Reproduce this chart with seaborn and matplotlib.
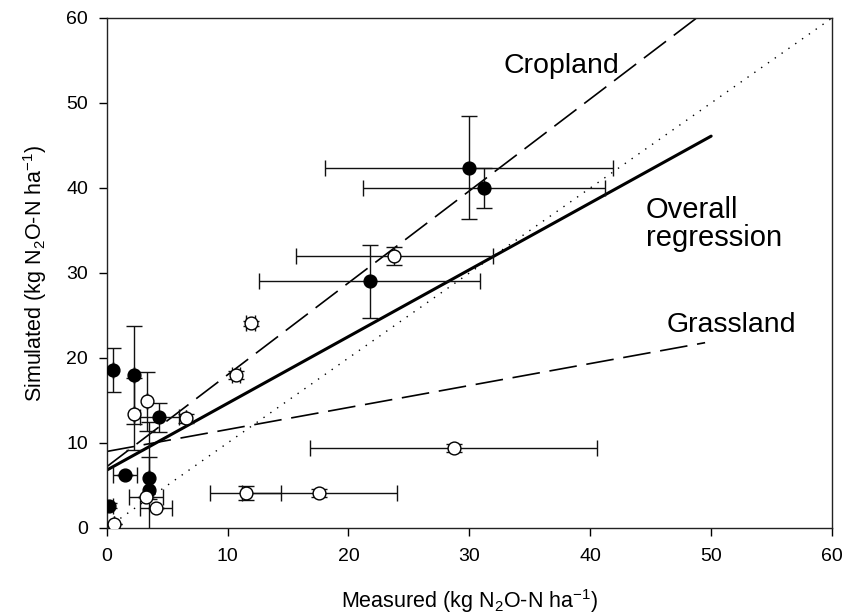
import matplotlib
matplotlib.use("Agg")
import matplotlib.pyplot as plt
import seaborn as sns
import pandas as pd

# Cropland (filled circles)
crop_x = [30.0, 31.2, 21.75, 0.5, 2.26, 4.35, 1.5, 3.5, 3.52, 0.22]
crop_y = [42.4, 40.0, 29.0, 18.6, 18.0, 13.0, 6.2, 5.9, 4.5, 2.6]
crop_xerr = [11.9, 10.0, 9.15, 0.0, 0.0, 1.6, 1.0, 0.0, 0.0, 0.3]
crop_yerr = [6.1, 2.3, 4.25, 2.55, 5.8, 1.7, 0.0, 2.5, 8.0, 0.3]

# Grassland (open circles)
grass_x = [23.8, 11.9, 10.7, 2.26, 3.36, 6.6, 28.7, 11.5, 17.6, 3.22, 4.08, 0.63]
grass_y = [32.0, 24.1, 18.0, 13.4, 14.9, 12.9, 9.4, 4.1, 4.1, 3.6, 2.3, 0.5]
grass_xerr = [8.15, 0.4, 0.3, 0.0, 0.0, 0.0, 11.85, 2.95, 6.4, 1.4, 1.35, 0.0]
grass_yerr = [1.1, 0.3, 0.5, 4.2, 3.5, 0.5, 0.5, 0.8, 0.5, 0.0, 0.0, 0.0]

# Regression lines (endpoints) and 1:1 line
crop_line_x = [0.0, 48.8]
crop_line_y = [7.2, 60.0]
grass_line_x = [0.0, 49.5]
grass_line_y = [9.0, 21.8]
overall_line_x = [0.0, 50.0]
overall_line_y = [6.8, 46.1]
one_x = [0.0, 60.0]
one_y = [0.0, 60.0]

ticks = [0, 10, 20, 30, 40, 50, 60]

sns.set_style("ticks")
plt.rcParams['font.family'] = ['Liberation Sans', 'DejaVu Sans']
plt.rcParams['lines.scale_dashes'] = False
plt.rcParams['mathtext.fontset'] = 'custom'
plt.rcParams['mathtext.rm'] = 'Liberation Sans'
plt.rcParams['mathtext.it'] = 'Liberation Sans:italic'
plt.rcParams['text.color'] = 'black'
plt.rcParams['axes.labelcolor'] = 'black'
plt.rcParams['xtick.color'] = 'black'
plt.rcParams['ytick.color'] = 'black'

fig = plt.figure(figsize=(8.46, 6.16), dpi=100)
ax = fig.add_axes([0.1261, 0.1429, 0.9835 - 0.1261, 0.9708 - 0.1429])

# lines
sns.lineplot(x=one_x, y=one_y, ax=ax, color='black', lw=1.0,
             linestyle=(0, (1, 5)), zorder=2)
sns.lineplot(x=crop_line_x, y=crop_line_y, ax=ax, color='black', lw=1.2,
             linestyle=(0, (20, 7)), zorder=2)
sns.lineplot(x=grass_line_x, y=grass_line_y, ax=ax, color='black', lw=1.2,
             linestyle=(0, (20, 7)), zorder=2)
sns.lineplot(x=overall_line_x, y=overall_line_y, ax=ax, color='black', lw=2.2,
             zorder=2)

# error bars
ax.errorbar(crop_x, crop_y, xerr=crop_xerr, yerr=crop_yerr, fmt='none',
            ecolor='#111111', elinewidth=1.0, capsize=5.5, capthick=1.0, zorder=3)
ax.errorbar(grass_x, grass_y, xerr=grass_xerr, yerr=grass_yerr, fmt='none',
            ecolor='#111111', elinewidth=1.0, capsize=5.5, capthick=1.0, zorder=3)

# points
df_c = pd.DataFrame({'x': crop_x, 'y': crop_y})
df_g = pd.DataFrame({'x': grass_x, 'y': grass_y})
sns.scatterplot(data=df_c, x='x', y='y', ax=ax, s=85, color='black',
                edgecolor='black', linewidth=1.0, zorder=4)
sns.scatterplot(data=df_g, x='x', y='y', ax=ax, s=85, color='white',
                edgecolor='black', linewidth=1.0, zorder=4)

ax.set_xlim(0, 60)
ax.set_ylim(0, 60)
ax.set_xticks(ticks)
ax.set_yticks(ticks)
ax.tick_params(direction='out', length=5.5, width=1.0, labelsize=14,
               colors='black')
ax.tick_params(axis='x', pad=9)
ax.tick_params(axis='y', pad=8)
for s in ax.spines.values():
    s.set_visible(True)
    s.set_color('#222222')
    s.set_linewidth(1.0)

ax.set_xlabel('Measured (kg N$_2$O-N ha$^{-1}$)', fontsize=15.5, labelpad=16)
ax.set_ylabel('Simulated (kg N$_2$O-N ha$^{-1}$)', fontsize=15.5, labelpad=12)

ax.text(32.8, 54.4, 'Cropland', fontsize=20.5, ha='left', va='center')
ax.text(44.6, 35.8, 'Overall\nregression', fontsize=21, ha='left', va='center',
        linespacing=1.0)
ax.text(46.3, 23.9, 'Grassland', fontsize=20.5, ha='left', va='center')

fig.savefig('out.png', dpi=100)
